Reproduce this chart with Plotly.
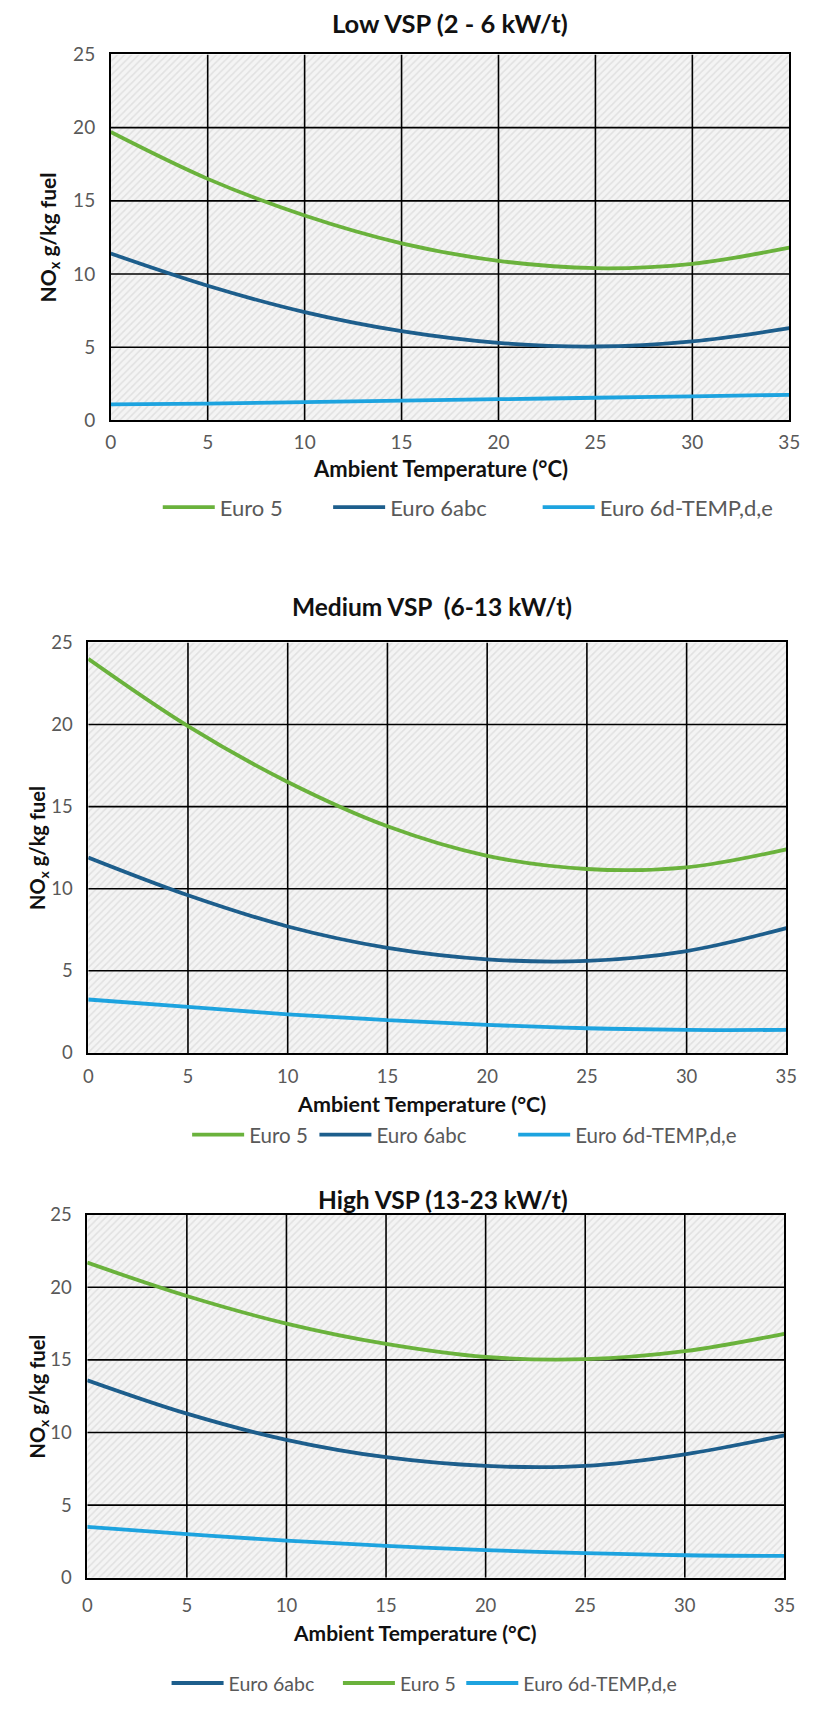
import plotly.graph_objects as go

# ---------------- data ----------------
temps = [0, 5, 10, 15, 20, 25, 30, 35]

low_euro5 = [19.7, 16.5, 14.0, 12.1, 10.9, 10.4, 10.7, 11.8]
low_euro6abc = [11.4, 9.2, 7.4, 6.1, 5.3, 5.05, 5.4, 6.3]
low_euro6d = [1.1, 1.15, 1.25, 1.35, 1.45, 1.55, 1.65, 1.75]

med_euro5 = [24.0, 19.9, 16.5, 13.8, 12.0, 11.2, 11.3, 12.4]
med_euro6abc = [11.9, 9.6, 7.7, 6.4, 5.7, 5.6, 6.2, 7.6]
med_euro6d = [3.25, 2.8, 2.35, 2.0, 1.7, 1.5, 1.4, 1.4]

high_euro5 = [21.7, 19.4, 17.5, 16.1, 15.2, 15.05, 15.6, 16.8]
high_euro6abc = [13.6, 11.3, 9.5, 8.3, 7.7, 7.7, 8.5, 9.8]
high_euro6d = [3.5, 3.0, 2.55, 2.2, 1.9, 1.7, 1.55, 1.5]

titles = ["Low VSP (2 - 6 kW/t)", "Medium VSP  (6-13 kW/t)", "High VSP (13-23 kW/t)"]
series_names = ["Euro 5", "Euro 6abc", "Euro 6d-TEMP,d,e"]
x_title = "Ambient Temperature (°C)"
y_title = "NO<sub>x</sub> g/kg fuel"
x_ticks = [0, 5, 10, 15, 20, 25, 30, 35]
y_ticks = [0, 5, 10, 15, 20, 25]

# ---------------- style ----------------
W, H = 814, 1718
COL = {"Euro 5": "#6AB23C", "Euro 6abc": "#1D5E8C", "Euro 6d-TEMP,d,e": "#1DA3DF"}
FONT = "Lato, 'Open Sans', sans-serif"
TICK_COL = "#595959"
x_range = [x_ticks[0], x_ticks[-1]]
y_range = [y_ticks[0], y_ticks[-1]]

panels = [
    dict(data={"Euro 5": low_euro5, "Euro 6abc": low_euro6abc, "Euro 6d-TEMP,d,e": low_euro6d},
         order=["Euro 5", "Euro 6abc", "Euro 6d-TEMP,d,e"],
         px=(107, 800), py=(43, 414), title_y=11, title_x=453, xt_y=463, xt_dx=-10, leg_y=502,
         leg_x=[155, 329, 543], yt_x=44, tick=19, leg=22, ttl=25.5, axt=22, yax=21, xstand=4),
    dict(data={"Euro 5": med_euro5, "Euro 6abc": med_euro6abc, "Euro 6d-TEMP,d,e": med_euro6d},
         order=["Euro 5", "Euro 6abc", "Euro 6d-TEMP,d,e"],
         px=(84, 797), py=(639, 1055), title_y=603, title_x=435, xt_y=1107, xt_dx=-16, leg_y=1138,
         leg_x=[185, 315, 518], yt_x=33, tick=18.5, leg=20.5, ttl=24.5, axt=21.5, yax=20, xstand=6),
    dict(data={"Euro 5": high_euro5, "Euro 6abc": high_euro6abc, "Euro 6d-TEMP,d,e": high_euro6d},
         order=["Euro 6abc", "Euro 5", "Euro 6d-TEMP,d,e"],
         px=(83, 795), py=(1219, 1587), title_y=1204, title_x=446, xt_y=1642, xt_dx=-22, leg_y=1694,
         leg_x=[164, 339, 465], yt_x=33, tick=18.5, leg=19.5, ttl=24.5, axt=21, yax=20, xstand=10),
]


def fx(p):
    return p / W


def fy(p):
    return 1 - p / H


fig = go.Figure()
annotations = []
layout = dict(width=W, height=H, margin=dict(l=0, r=0, t=0, b=0),
              paper_bgcolor="white", plot_bgcolor="#f4f4f4", showlegend=True,
              font=dict(family=FONT, color=TICK_COL))

# grid segments built from tick lists
grid_x, grid_y = [], []
for xv in x_ticks[1:-1]:
    grid_x += [xv, xv, None]
    grid_y += [y_range[0], y_range[1], None]
for yv in y_ticks[1:-1]:
    grid_x += [x_range[0], x_range[1], None]
    grid_y += [yv, yv, None]

leg_idx = 0
for i, p in enumerate(panels):
    sfx = "" if i == 0 else str(i + 1)
    xa, ya = "x" + sfx, "y" + sfx
    # hatched plot-area background
    fig.add_trace(go.Scatter(
        x=[x_range[0], x_range[1], x_range[1], x_range[0], x_range[0]],
        y=[y_range[0], y_range[0], y_range[1], y_range[1], y_range[0]],
        xaxis=xa, yaxis=ya, mode="lines", line=dict(width=0), fill="toself",
        fillcolor="rgba(0,0,0,0)",
        fillpattern=dict(shape="/", fgcolor="#cdcdcd", bgcolor="rgba(0,0,0,0)", size=5, solidity=0.3),
        showlegend=False, hoverinfo="skip"))
    # black gridlines above the hatch
    fig.add_trace(go.Scatter(x=grid_x, y=grid_y, xaxis=xa, yaxis=ya, mode="lines",
                             line=dict(color="black", width=1.6), showlegend=False,
                             hoverinfo="skip"))
    for j, name in enumerate(p["order"]):
        leg_idx += 1
        lname = "legend" if leg_idx == 1 else "legend%d" % leg_idx
        fig.add_trace(go.Scatter(
            x=temps, y=p["data"][name], name=name, mode="lines",
            line=dict(color=COL[name], width=3.8, shape="spline", smoothing=1.0),
            xaxis=xa, yaxis=ya, legend=lname, showlegend=True))
        layout[lname] = dict(orientation="h", x=fx(p["leg_x"][j]), xanchor="left",
                             y=fy(p["leg_y"]), yanchor="middle", bgcolor="rgba(0,0,0,0)",
                             font=dict(size=p["leg"], color=TICK_COL, family=FONT),
                             itemwidth=52)
    axis_common = dict(showgrid=False, showline=True,
                       linecolor="black", linewidth=1.6, mirror=True, zeroline=False,
                       ticks="", tickfont=dict(size=p["tick"], color=TICK_COL, family=FONT),
                       fixedrange=True)
    layout["xaxis" + sfx] = dict(axis_common, domain=[fx(p["px"][0]), fx(p["px"][1])],
                                 range=x_range, anchor=ya, tickmode="array", tickvals=x_ticks,
                                 ticklabelstandoff=p["xstand"])
    layout["yaxis" + sfx] = dict(axis_common, domain=[fy(p["py"][1]), fy(p["py"][0])],
                                 range=y_range, anchor=xa, tickmode="array", tickvals=y_ticks,
                                 ticklabelstandoff=10)
    # panel title
    annotations.append(dict(text="<b>%s</b>" % titles[i], x=fx(p["title_x"]), y=fy(p["title_y"]),
                            xref="paper", yref="paper", showarrow=False, xanchor="center",
                            yanchor="middle", font=dict(size=p["ttl"], color="#111111", family=FONT)))
    # x axis title
    annotations.append(dict(text="<b>%s</b>" % x_title,
                            x=fx((p["px"][0] + p["px"][1]) / 2 + p["xt_dx"]),
                            y=fy(p["xt_y"]), xref="paper", yref="paper", showarrow=False,
                            xanchor="center", yanchor="middle",
                            font=dict(size=p["axt"], color="#111111", family=FONT)))
    # y axis title
    annotations.append(dict(text="<b>%s</b>" % y_title, x=fx(p["yt_x"]),
                            y=fy((p["py"][0] + p["py"][1]) / 2), xref="paper", yref="paper",
                            showarrow=False, xanchor="center", yanchor="middle", textangle=-90,
                            font=dict(size=p["yax"], color="#111111", family=FONT)))

layout["annotations"] = annotations
fig.update_layout(**layout)
fig.write_html("out.html")
